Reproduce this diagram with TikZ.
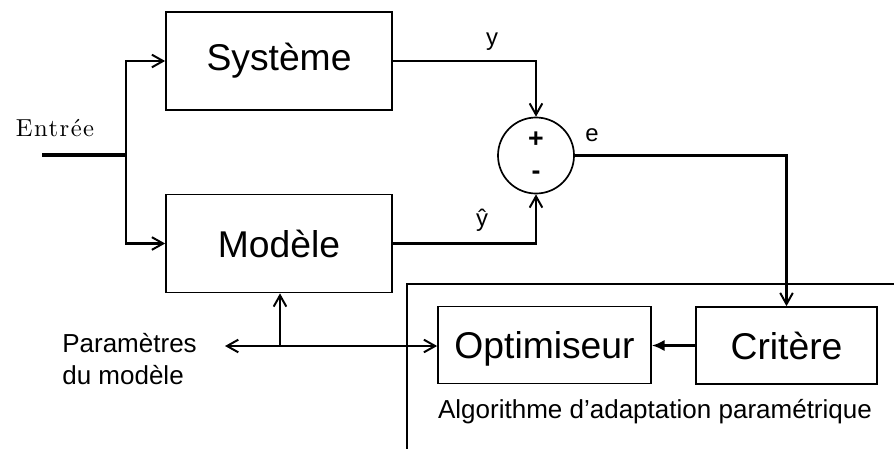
\documentclass[tikz,border=0pt]{standalone}
\usepackage{fontspec}
\setmainfont{Liberation Sans}
\newfontfamily\entreefont{lmroman10-regular.otf}[LetterSpace=6]
\usetikzlibrary{arrows.meta}

\tikzset{
  bloc/.style={draw,line width=1.2pt,inner sep=0pt,minimum height=2.45cm,
    font=\fontsize{26.5}{30}\selectfont},
  petitbloc/.style={bloc,minimum height=1.925cm},
  lien/.style={line width=1.7pt,-{Straight Barb[length=8pt,width=9pt,line width=1.4pt]}},
  lbl/.style={inner sep=0pt,font=\fontsize{17}{20}\selectfont}
}

\begin{document}
\begin{tikzpicture}[x=0.025cm,y=-0.025cm]
  \useasboundingbox (0,0) rectangle (894,448);
  \clip (0,0) rectangle (894,448);
  \fill[white] (0,0) rectangle (894,448);
  \draw[line width=1.1pt] (407,470) -- (407,284) -- (920,284);
  \node[bloc,minimum width=5.65cm] (sys) at (279,61) {Système};
  \node[bloc,minimum width=5.65cm] (mod) at (279,243.5) {Modèle};
  \node[draw,circle,line width=1.2pt,minimum size=1.9cm] (sum) at (536,155.5) {};
  \node[lbl,font=\fontsize{19}{20}\selectfont\bfseries] (plus) at (536,140) {+};
  \node[lbl,font=\fontsize{19}{20}\selectfont\bfseries] (moins) at (536,175) {-};
  \node[petitbloc,minimum width=5.325cm,text depth=0pt] (opt) at (544.5,345) {Optimiseur};
  \node[petitbloc,minimum width=4.525cm] (crit) at (786.5,345.5) {Critère};
  \node[inner sep=0pt,font={\fontsize{17.5}{20}\entreefont}] (entree) at (55,128) {Entrée};
  \node[inner sep=0pt,inner xsep=0.7cm,align=left,anchor=west,
    font=\fontsize{18.5}{22.7}\selectfont] (par) at (34,359) {Paramètres\\du modèle};
  \node[inner sep=0pt,font=\fontsize{18.5}{22}\selectfont] (algo) at (655,412) {Algorithme d'adaptation paramétrique};
  \node[lbl] (ly) at (492,42) {y};
  \node[lbl] (lyh) at (482,220) {ŷ};
  \node[lbl] (le) at (592,135) {e};
  \coordinate (in) at (42,155);
  \coordinate (split) at (126,155);
  \coordinate (junc) at (280,346);
  \draw[line width=3pt] (in) -- (split);
  \draw[lien] (split) |- (sys.west);
  \draw[lien] (split) |- (mod.west);
  \draw[lien] (sys.east) -| (sum.north);
  \draw[lien] (mod.east) -| (sum.south);
  \draw[lien] (sum.east) -| (crit.north);
  \draw[line width=1.7pt,-{Latex[length=9pt,width=8pt]}] (crit.west) -- (opt.east |- crit.west);
  \draw[lien] (junc) -- (par.east |- junc);
  \draw[lien] (junc) -- (opt.west |- junc);
  \draw[lien] (junc) -- (junc |- mod.south);
\end{tikzpicture}
\end{document}
